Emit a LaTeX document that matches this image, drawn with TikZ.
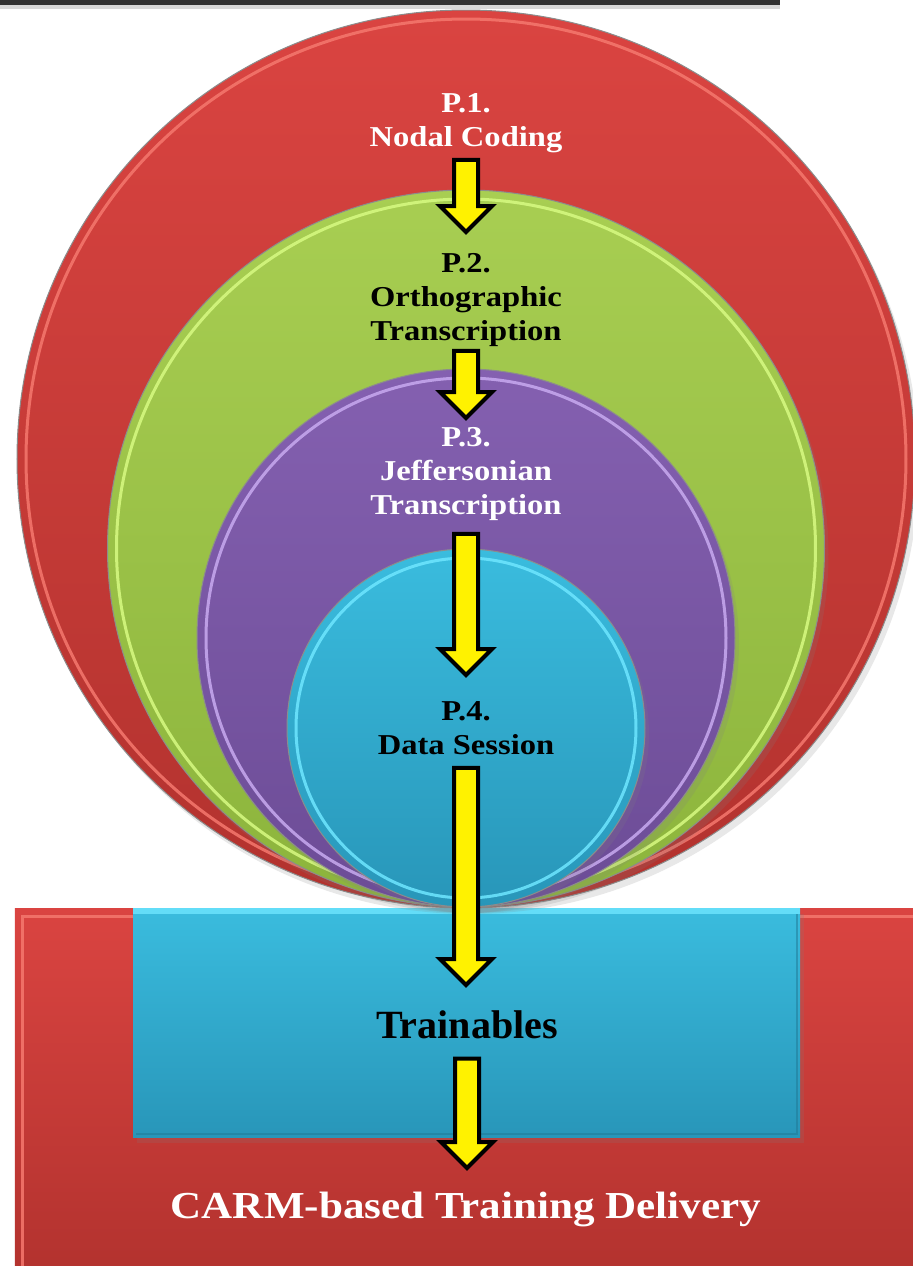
\documentclass[tikz,border=0pt]{standalone}
\usepackage{fontspec}
\setmainfont{Liberation Serif}
\newfontfamily\widefont{Liberation Serif}[FakeStretch=1.13]
\usetikzlibrary{calc}
\usetikzlibrary{shadows}
\definecolor{redtop}{RGB}{218, 68, 65}
\definecolor{redbot}{RGB}{178, 50, 46}
\definecolor{redlite}{RGB}{245, 120, 110}
\definecolor{greentop}{RGB}{168, 206, 82}
\definecolor{greenbot}{RGB}{140, 180, 60}
\definecolor{greenlite}{RGB}{215, 250, 130}
\definecolor{purpletop}{RGB}{132, 96, 176}
\definecolor{purplebot}{RGB}{108, 76, 150}
\definecolor{purplelite}{RGB}{200, 170, 240}
\definecolor{cyantop}{RGB}{58, 188, 222}
\definecolor{cyanbot}{RGB}{40, 150, 185}
\definecolor{cyanlite}{RGB}{110, 230, 255}

\begin{document}
\begin{tikzpicture}[
  plate/.style 2 args={top color=#1, bottom color=#2,
              drop shadow={shadow xshift=0.4mm, shadow yshift=-0.6mm, opacity=0.18}},
  rim/.style={line width=0.1mm, draw=black!45},
  bevel/.style={line width=0.3mm, draw=#1, opacity=0.85},
  lab/.style={font=\widefont\bfseries\fontsize{8.2}{9.7}\selectfont, align=center,
              anchor=north, inner sep=0pt},
  barrow/.style 2 args={draw=black, line width=0.4mm, fill=yellow, line join=miter,
    to path={let \p1=(\tikztostart), \p2=(\tikztotarget) in
      (\x1-1.2mm,\y1-#1) -- (\x1-1.2mm,\y2+#2+2.6mm) -- (\x1-2.6mm,\y2+#2+2.6mm)
      -- (\x1,\y2+#2) -- (\x1+2.6mm,\y2+#2+2.6mm) -- (\x1+1.2mm,\y2+#2+2.6mm)
      -- (\x1+1.2mm,\y1-#1) -- cycle}}
]
\useasboundingbox (0,0) rectangle (9.13,-12.66);

\fill[black!80, drop shadow={shadow xshift=0mm, shadow yshift=-0.4mm, opacity=0.3}]
   (0,0.1) rectangle (7.8,-0.045);

\shade[top color=redtop, bottom color=redbot] (0.15,-9.08) rectangle (9.3,-12.8);
\draw[bevel=redlite] (0.23,-12.8) -- (0.23,-9.16) -- (9.3,-9.16);
\shade[plate={cyantop}{cyanbot}] (1.33,-9.08) rectangle (8.0,-11.37);
\fill[cyanlite, opacity=0.8] (1.33,-9.08) rectangle (8.0,-9.14);
\draw[cyanbot!80!black, line width=0.2mm, opacity=0.5] (1.36,-11.34) -- (7.97,-11.34) -- (7.97,-9.14);

\shade[plate={redtop}{redbot}, rim] (4.66,-4.59) circle (4.49);
\draw[bevel=redlite] (4.66,-4.59) circle (4.40);
\shade[plate={greentop}{greenbot}, rim] (4.66,-5.485) circle (3.585);
\draw[bevel=greenlite] (4.66,-5.485) circle (3.495);
\shade[plate={purpletop}{purplebot}, rim] (4.66,-6.38) circle (2.69);
\draw[bevel=purplelite] (4.66,-6.38) circle (2.60);
\shade[plate={cyantop}{cyanbot}, rim] (4.66,-7.28) circle (1.79);
\draw[bevel=cyanlite] (4.66,-7.28) circle (1.70);

\node[lab, text=white] (p1) at (4.66,-0.93) {P.1.\\Nodal Coding};
\node[lab, text=black] (p2) at (4.66,-2.53) {P.2.\\Orthographic\\Transcription};
\node[lab, text=white] (p3) at (4.66,-4.27) {P.3.\\Jeffersonian\\Transcription};
\node[lab, text=black] (p4) at (4.66,-7.01) {P.4.\\Data Session};
\node[font=\bfseries\fontsize{11.4}{13}\selectfont, anchor=north, inner sep=0pt]
   (train) at (4.67,-10.10) {Trainables};
\node[font=\widefont\bfseries\fontsize{10.85}{13}\selectfont, text=white, anchor=north,
   inner sep=0pt] (carm) at (4.66,-11.91) {CARM-based Training Delivery};

\draw[barrow={0.6mm}{2.1mm}] (p1.south) to (p2.north);
\draw[barrow={0.3mm}{0.9mm}] (p2.south) to (p3.north);
\draw[barrow={1.2mm}{2.6mm}] (p3.south) to (p4.north);
\draw[barrow={1.2mm}{2.5mm}] (p4.south) to (train.north);
\draw[barrow={1.9mm}{2.3mm}] (train.south) to (carm.north);
\end{tikzpicture}
\end{document}
